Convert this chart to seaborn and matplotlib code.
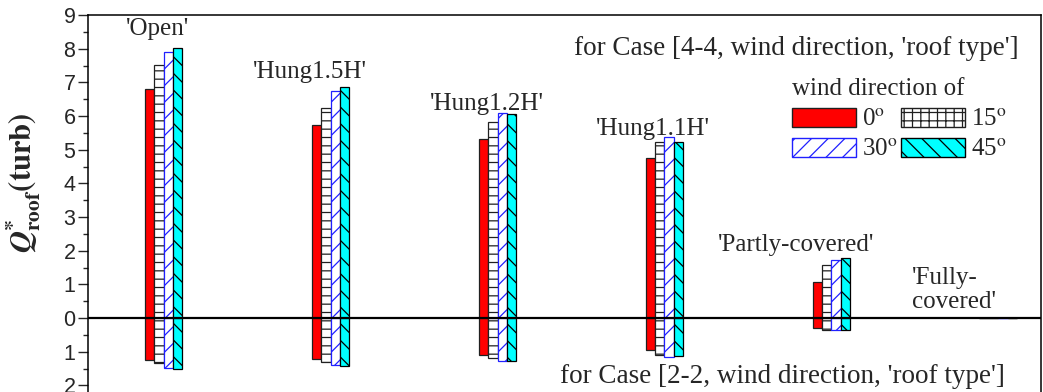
import numpy as np
import pandas as pd
import matplotlib
matplotlib.use("Agg")
import matplotlib.pyplot as plt
import seaborn as sns
from matplotlib.patches import Patch
from matplotlib.ticker import MultipleLocator

# ---------------- data ----------------
roof_types = ["Open", "Hung1.5H", "Hung1.2H", "Hung1.1H", "Partly-covered", "Fully-covered"]
roof_labels = ["'Open'", "'Hung1.5H'", "'Hung1.2H'", "'Hung1.1H'", "'Partly-covered'", "'Fully-\ncovered'"]
directions = ["0", "15", "30", "45"]

# Case [4-4, wind direction, roof type]  (upper part)
case44_dir0 = [6.80, 5.72, 5.33, 4.74, 1.07, 0.0]
case44_dir15 = [7.52, 6.24, 5.82, 5.23, 1.57, 0.0]
case44_dir30 = [7.90, 6.75, 6.09, 5.39, 1.72, 0.0]
case44_dir45 = [8.02, 6.85, 6.07, 5.23, 1.77, 0.0]

# Case [2-2, wind direction, roof type]  (lower part, plotted downward)
case22_dir0 = [-1.25, -1.21, -1.10, -0.94, -0.30, 0.0]
case22_dir15 = [-1.33, -1.30, -1.18, -1.10, -0.35, 0.0]
case22_dir30 = [-1.48, -1.41, -1.28, -1.17, -0.37, 0.0]
case22_dir45 = [-1.50, -1.43, -1.28, -1.14, -0.37, 0.0]

ytick_values = list(range(-2, 10))
ytick_labels = [str(abs(v)) for v in ytick_values]


def long_frame(series):
    rows = []
    for d, vals in zip(directions, series):
        for r, v in zip(roof_types, vals):
            rows.append({"roof": r, "direction": d, "value": v})
    return pd.DataFrame(rows)


df_top = long_frame([case44_dir0, case44_dir15, case44_dir30, case44_dir45])
df_bot = long_frame([case22_dir0, case22_dir15, case22_dir30, case22_dir45])

# ---------------- style ----------------
sns.set_style("ticks")
plt.rcParams["font.family"] = ["Liberation Serif", "DejaVu Serif"]
plt.rcParams["mathtext.fontset"] = "stix"
plt.rcParams["hatch.linewidth"] = 0.9

face = {"0": "#ff0000", "15": "#ffffff", "30": "#ffffff", "45": "#00ffff"}
edge = {"0": "#202020", "15": "#202020", "30": "#2020ff", "45": "#000000"}
bar_hatch = {"0": None, "15": "--", "30": "//", "45": "\\\\"}
leg_hatch = {"0": None, "15": "++", "30": "//", "45": "\\\\"}

W, H = 1043, 392
fig = plt.figure(figsize=(W / 100, H / 100), dpi=100)
x0, x1 = 88, 1041
ytop_px, yzero_px = 15, 318
ppu = (yzero_px - ytop_px) / 9.0
ymin = -2.5
ybot_px = yzero_px - ymin * ppu
ax = fig.add_axes([x0 / W, (H - ybot_px) / H, (x1 - x0) / W, (ybot_px - ytop_px) / H])

for df in (df_top, df_bot):
    sns.barplot(data=df, x="roof", y="value", hue="direction", order=roof_types,
                hue_order=directions, palette=face, width=0.225, dodge=True,
                saturation=1, errorbar=None, legend=False, linewidth=0.9,
                edgecolor="black", ax=ax)

for i, cont in enumerate(ax.containers):
    d = directions[i % 4]
    for bar in cont:
        bar.set_facecolor(face[d])
        bar.set_edgecolor(edge[d])
        bar.set_linewidth(0.9)
        if bar_hatch[d]:
            bar.set_hatch(bar_hatch[d])

ax.axhline(0, color="black", lw=1.6, zorder=5)

group_px = [163.7 + 166.9 * i for i in range(6)]
xl = -(group_px[0] - x0) / 166.9
xr = (x1 - group_px[0]) / 166.9
ax.set_xlim(xl, xr)
ax.set_ylim(ymin, 9)
ax.set_xticks([])
ax.set_xlabel("")
ax.set_yticks(ytick_values)
ax.set_yticklabels(ytick_labels, family=["Liberation Sans", "DejaVu Sans"], fontsize=15.5)
ax.yaxis.set_minor_locator(MultipleLocator(0.5))
ax.tick_params(axis="y", which="major", direction="out", length=7, width=1, pad=2)
ax.tick_params(axis="y", which="minor", direction="out", length=3.5, width=1)
for s in ax.spines.values():
    s.set_linewidth(1.1)
    s.set_color("black")

ax.set_ylabel(r"$\mathbfit{Q}^{\mathbf{*}}_{\mathbf{roof}}\mathbf{(turb)}$", fontsize=22)
ax.yaxis.set_label_coords((43 - x0) / (x1 - x0), (ybot_px - 183) / (ybot_px - ytop_px))

# roof-type labels (layout positions in data coords)
label_pos = [(-0.034, 8.40, "center"), (0.877, 7.13, "center"), (1.937, 6.18, "center"),
             (2.932, 5.44, "center"), (3.789, 1.99, "center"), (4.484, 0.83, "left")]
for (lx, ly, ha), txt in zip(label_pos, roof_labels):
    va = "center" if "\n" in txt else "baseline"
    ax.text(lx, ly, txt, ha=ha, va=va, fontsize=18, linespacing=1.15)

fig.text(1019 / W, (H - 55) / H, "for Case [4-4, wind direction, 'roof type']",
         ha="right", va="baseline", fontsize=19.5)
fig.text(1005 / W, (H - 383) / H, "for Case [2-2, wind direction, 'roof type']",
         ha="right", va="baseline", fontsize=19.5)

handles = [Patch(facecolor=face[d], edgecolor=edge[d], hatch=leg_hatch[d], linewidth=1.0)
           for d in directions]
labels = [d + r"$^{\mathrm{o}}$" for d in directions]
order = [0, 2, 1, 3]
leg = ax.legend([handles[i] for i in order], [labels[i] for i in order], ncol=2,
                title="wind direction of", loc="upper left",
                bbox_to_anchor=(792 / W, (H - 78) / H), bbox_transform=fig.transFigure,
                frameon=False, fontsize=18, title_fontsize=18, alignment="left",
                handlelength=2.55, handleheight=0.8, handletextpad=0.25,
                columnspacing=0.15, labelspacing=0.3, borderpad=0, borderaxespad=0)

fig.savefig("out.png", dpi=100)
